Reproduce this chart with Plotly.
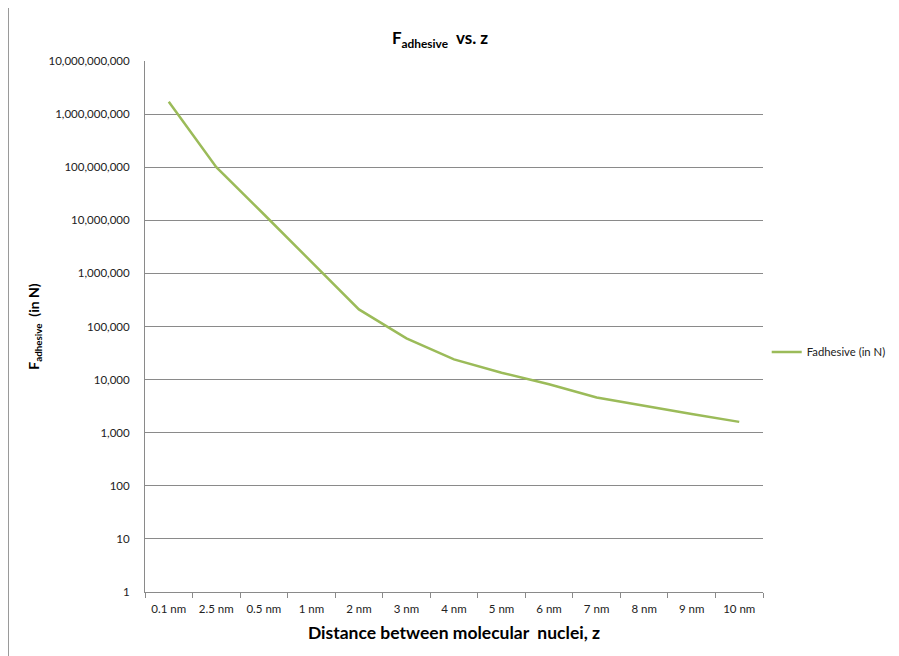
import plotly.graph_objects as go

categories = ["0.1 nm", "2.5 nm", "0.5 nm", "1 nm", "2 nm", "3 nm", "4 nm",
              "5 nm", "6 nm", "7 nm", "8 nm", "9 nm", "10 nm"]
f_adhesive = [1.7e9, 1.0e8, 1.3e7, 1.65e6, 2.1e5, 6.0e4, 2.4e4,
              1.35e4, 8.2e3, 4.6e3, 3.2e3, 2.25e3, 1.6e3]
y_tick_vals = [1, 10, 100, 1e3, 1e4, 1e5, 1e6, 1e7, 1e8, 1e9, 1e10]
y_tick_text = ["1", "10", "100", "1,000", "10,000", "100,000", "1,000,000",
               "10,000,000", "100,000,000", "1,000,000,000", "10,000,000,000"]

FONT = "Lato, Open Sans, sans-serif"
GRID = "#8a8a8a"

fig = go.Figure()
fig.add_trace(go.Scatter(
    x=categories, y=f_adhesive, mode="lines", name="Fadhesive (in N)",
    line=dict(color="#9BBB59", width=2.5),
))

OFF = 8  # page body margin
W, H = 899 - OFF, 656 - OFF
L, R, T, B = 145 - OFF, 763 - OFF, 61 - OFF, 592 - OFF

fig.update_layout(
    width=W, height=H,
    margin=dict(l=L, r=W - R, t=T, b=H - B, autoexpand=False),
    paper_bgcolor="white", plot_bgcolor="white",
    font=dict(family=FONT, color="#222222", size=10),
    title=dict(text="<b>F<sub>adhesive</sub>  vs. z</b>", font=dict(size=17, color="#000000"),
               x=(440 - OFF) / W, xref="container", xanchor="center",
               y=1 - (38 - OFF) / H, yref="container", yanchor="middle"),
    showlegend=True,
    legend=dict(x=0.006, xanchor="left", y=0.452, yanchor="middle",
                font=dict(size=11.3, color="#222222"), bgcolor="rgba(0,0,0,0)",
                itemwidth=30),
    xaxis=dict(
        type="category", tickson="boundaries", ticks="outside", ticklen=5,
        tickcolor=GRID, showline=True, linecolor=GRID, linewidth=1,
        showgrid=False, tickfont=dict(size=11.5, color="#222222"),
        ticklabelstandoff=6,
        range=[-0.5, len(categories) - 0.5],
        title=dict(text="<b>Distance between molecular  nuclei, z</b>",
                   font=dict(size=17.5, color="#000000"), standoff=12),
    ),
    yaxis=dict(
        type="log", range=[0, 10], tickvals=y_tick_vals, ticktext=y_tick_text,
        showgrid=True, gridcolor=GRID, gridwidth=1, showline=True, linecolor=GRID,
        ticks="", tickfont=dict(size=11.5, color="#222222"), zeroline=False,
        ticklabelstandoff=12,
        title=dict(text="<b>F<sub>adhesive</sub>  (in N)</b>",
                   font=dict(size=14, color="#000000"), standoff=5),
    ),
    shapes=[dict(type="line", xref="paper", yref="paper",
                 x0=(0.5 - L) / (R - L), x1=(0.5 - L) / (R - L),
                 y0=B / (B - T), y1=(B - H) / (B - T),
                 line=dict(color="#9a9a9a", width=1))],
)
fig.update_layout(legend_x=1.006)

fig.write_html("out.html")
